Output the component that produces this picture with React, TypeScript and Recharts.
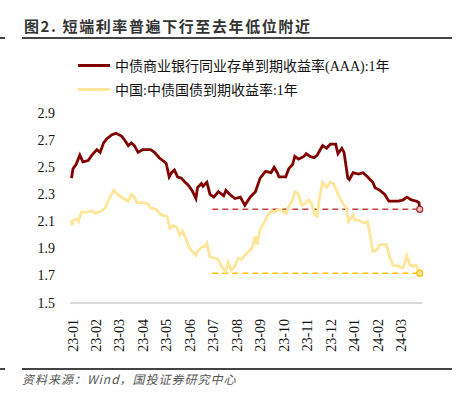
import { LineChart, Line, XAxis, YAxis, ReferenceLine, ReferenceDot } from "recharts";

const TITLE = "图2. 短端利率普遍下行至去年低位附近";
const SOURCE = "资料来源：Wind，国投证券研究中心";
const NAME_CD = "中债商业银行同业存单到期收益率(AAA):1年";
const NAME_GB = "中国:中债国债到期收益率:1年";

// x-axis tick labels (one per month)
const monthLabels = ["23-01","23-02","23-03","23-04","23-05","23-06","23-07","23-08","23-09","23-10","23-11","23-12","24-01","24-02","24-03"];
const yTicks = [1.5, 1.7, 1.9, 2.1, 2.3, 2.5, 2.7, 2.9];

// NCD AAA 1Y
const cdDates = ["2023-01-03","2023-01-05","2023-01-09","2023-01-14","2023-01-18","2023-01-25","2023-01-30","2023-02-05","2023-02-09","2023-02-13","2023-02-17","2023-02-23","2023-02-28","2023-03-07","2023-03-10","2023-03-16","2023-03-20","2023-03-24","2023-03-29","2023-04-04","2023-04-11","2023-04-14","2023-04-19","2023-04-25","2023-05-04","2023-05-08","2023-05-11","2023-05-15","2023-05-19","2023-05-24","2023-05-29","2023-06-02","2023-06-07","2023-06-12","2023-06-14","2023-06-19","2023-06-21","2023-06-26","2023-06-30","2023-07-05","2023-07-11","2023-07-18","2023-07-21","2023-07-26","2023-08-02","2023-08-09","2023-08-15","2023-08-22","2023-08-29","2023-09-04","2023-09-11","2023-09-18","2023-09-22","2023-09-26","2023-09-28","2023-10-07","2023-10-11","2023-10-16","2023-10-19","2023-10-24","2023-10-31","2023-11-03","2023-11-08","2023-11-13","2023-11-17","2023-11-24","2023-11-29","2023-12-04","2023-12-11","2023-12-14","2023-12-19","2023-12-22","2023-12-27","2023-12-29","2024-01-03","2024-01-10","2024-01-16","2024-01-22","2024-01-29","2024-02-01","2024-02-07","2024-02-13","2024-02-18","2024-02-23","2024-03-01","2024-03-07","2024-03-12","2024-03-18","2024-03-25","2024-03-28","2024-03-29"];
const cdValues = [2.42,2.49,2.52,2.59,2.54,2.55,2.59,2.63,2.61,2.68,2.71,2.74,2.75,2.73,2.71,2.66,2.68,2.66,2.61,2.63,2.63,2.63,2.61,2.57,2.53,2.43,2.46,2.48,2.43,2.42,2.39,2.37,2.33,2.27,2.35,2.38,2.36,2.39,2.30,2.28,2.32,2.29,2.33,2.30,2.27,2.28,2.22,2.28,2.32,2.42,2.47,2.46,2.50,2.46,2.43,2.43,2.49,2.52,2.58,2.56,2.58,2.60,2.58,2.57,2.59,2.66,2.64,2.67,2.67,2.60,2.64,2.61,2.42,2.41,2.46,2.45,2.46,2.43,2.39,2.35,2.33,2.30,2.25,2.25,2.25,2.26,2.28,2.26,2.25,2.24,2.19];

// CGB 1Y
const gbDates = ["2023-01-03","2023-01-04","2023-01-05","2023-01-10","2023-01-12","2023-01-16","2023-01-23","2023-01-30","2023-02-03","2023-02-11","2023-02-15","2023-02-19","2023-02-25","2023-02-28","2023-03-07","2023-03-10","2023-03-16","2023-03-20","2023-03-24","2023-03-27","2023-04-04","2023-04-11","2023-04-14","2023-04-21","2023-04-27","2023-05-05","2023-05-09","2023-05-13","2023-05-18","2023-05-22","2023-05-26","2023-05-29","2023-06-02","2023-06-04","2023-06-12","2023-06-14","2023-06-19","2023-06-24","2023-06-26","2023-06-30","2023-07-07","2023-07-11","2023-07-15","2023-07-20","2023-07-24","2023-07-28","2023-08-02","2023-08-06","2023-08-11","2023-08-15","2023-08-20","2023-08-24","2023-08-29","2023-08-31","2023-09-04","2023-09-11","2023-09-14","2023-09-19","2023-09-22","2023-09-28","2023-10-08","2023-10-10","2023-10-16","2023-10-19","2023-10-24","2023-10-28","2023-11-01","2023-11-06","2023-11-10","2023-11-14","2023-11-17","2023-11-20","2023-11-24","2023-11-29","2023-12-04","2023-12-08","2023-12-12","2023-12-16","2023-12-21","2023-12-25","2023-12-28","2024-01-03","2024-01-05","2024-01-10","2024-01-18","2024-01-22","2024-01-26","2024-01-29","2024-02-03","2024-02-07","2024-02-15","2024-02-19","2024-02-23","2024-03-01","2024-03-07","2024-03-12","2024-03-16","2024-03-20","2024-03-24","2024-03-27","2024-03-29"];
const gbValues = [2.11,2.07,2.11,2.12,2.10,2.17,2.17,2.18,2.16,2.18,2.20,2.26,2.33,2.31,2.28,2.27,2.25,2.30,2.28,2.24,2.24,2.23,2.20,2.19,2.15,2.14,2.05,2.07,2.06,2.00,2.03,1.99,1.93,1.90,1.85,1.88,1.91,1.92,1.94,1.84,1.83,1.82,1.77,1.73,1.80,1.74,1.77,1.83,1.82,1.85,1.88,1.90,1.99,1.93,2.04,2.11,2.15,2.18,2.17,2.19,2.16,2.20,2.26,2.32,2.30,2.22,2.23,2.26,2.23,2.15,2.14,2.28,2.39,2.35,2.39,2.38,2.33,2.28,2.23,2.20,2.10,2.15,2.11,2.11,2.09,2.10,1.99,1.88,1.89,1.93,1.93,1.84,1.78,1.77,1.76,1.85,1.78,1.77,1.78,1.74,1.72];

// previous-year lows marked by dashed lines
const cdLow = 2.19;
const gbLow = 1.72;
const lowStart = "2023-07-03";

// month index (0 = Jan 2023) with fractional day position
function toMonth(d: string) {
  const [y, mo, da] = d.split("-").map(Number);
  const dim = new Date(y, mo, 0).getDate();
  return (y - 2023) * 12 + (mo - 1) + (da - 1) / dim;
}

const cdData = cdDates.map((d, i) => ({ m: toMonth(d), v: cdValues[i] }));
const gbData = gbDates.map((d, i) => ({ m: toMonth(d), v: gbValues[i] }));
const startM = toMonth(lowStart);
const endCd = cdData[cdData.length - 1].m;
const endGb = gbData[gbData.length - 1].m;

const serif = "'Liberation Serif', 'Times New Roman', 'Noto Sans CJK SC', serif";

const XTick = (props: any) => {
  const { x, y, payload } = props;
  return (
    <text x={x + 3} y={y + 8} transform={`rotate(-90, ${x + 3}, ${y + 8})`} textAnchor="end" dominantBaseline="central"
      fontSize={14} fontFamily={serif} fill="#111">
      {monthLabels[payload.value]}
    </text>
  );
};

const YTick = (props: any) => {
  const { x, y, payload } = props;
  return (
    <text x={x - 7} y={y} textAnchor="end" dominantBaseline="central" fontSize={14} fontFamily={serif} fill="#111">
      {payload.value.toFixed(1)}
    </text>
  );
};

export default function App() {
  return (
    <div style={{ position: "absolute", left: 0, top: 0, width: 458, height: 397, background: "#fff", overflow: "hidden" }}>
      <div style={{ position: "absolute", left: 24, top: 15, fontSize: 15, fontWeight: 700, letterSpacing: 1.6, color: "#333",
        fontFamily: "'Noto Sans CJK SC', sans-serif", lineHeight: "22px", whiteSpace: "nowrap" }}>{TITLE}</div>
      <div style={{ position: "absolute", left: 22, top: 37, width: 430, height: 2, background: "#444" }} />
      <div style={{ position: "absolute", left: 0, top: 37, width: 5, height: 2, background: "#444" }} />

      {[{ name: NAME_CD, color: "#800000", top: 56 }, { name: NAME_GB, color: "#FFE699", top: 80 }].map((it) => (
        <div key={it.name} style={{ position: "absolute", left: 78, top: it.top, height: 18, display: "flex", alignItems: "center",
          fontFamily: serif, fontSize: 14, color: "#111", whiteSpace: "nowrap" }}>
          <span style={{ display: "inline-block", width: 32, height: 3, background: it.color, marginRight: 5 }} />
          {it.name}
        </div>
      ))}

      <div style={{ position: "absolute", left: 0, top: 0 }}>
        <LineChart width={458} height={397} margin={{ top: 113, right: 36, bottom: 0, left: 0 }}>
          <XAxis type="number" dataKey="m" domain={[0, 15]} ticks={monthLabels.map((_, i) => i)} allowDataOverflow
            height={94} tickLine={false} axisLine={{ stroke: "#d9d9d9", strokeWidth: 2 }} tick={<XTick />} interval={0} />
          <YAxis type="number" domain={[1.5, 2.9]} ticks={yTicks} allowDataOverflow width={70}
            tickLine={false} axisLine={false} tick={<YTick />} interval={0} />
          <ReferenceLine segment={[{ x: startM, y: cdLow }, { x: endCd, y: cdLow }]} stroke="#C8413E" strokeWidth={1.5} strokeDasharray="6 4" />
          <ReferenceLine segment={[{ x: startM, y: gbLow }, { x: endGb, y: gbLow }]} stroke="#FFC000" strokeWidth={1.5} strokeDasharray="6 4" />
          <Line data={gbData} dataKey="v" type="linear" stroke="#FFE699" strokeWidth={2.8} dot={false} isAnimationActive={false} />
          <Line data={cdData} dataKey="v" type="linear" stroke="#800000" strokeWidth={2.8} dot={false} isAnimationActive={false} />
          <ReferenceDot x={endCd} y={cdLow} r={3} fill="#f2c4c4" stroke="#A0282A" strokeWidth={1.2} />
          <ReferenceDot x={endGb} y={gbLow} r={3} fill="#FFE699" stroke="#FFC000" strokeWidth={1.2} />
        </LineChart>
      </div>

      <div style={{ position: "absolute", left: 22, top: 368, width: 430, height: 2, background: "#444" }} />
      <div style={{ position: "absolute", left: 0, top: 368, width: 5, height: 2, background: "#444" }} />
      <div style={{ position: "absolute", left: 22, top: 371, fontSize: 12, fontStyle: "italic", letterSpacing: 1, color: "#555",
        fontFamily: "'Noto Sans CJK SC', sans-serif", lineHeight: "16px", whiteSpace: "nowrap" }}>{SOURCE}</div>
    </div>
  );
}
